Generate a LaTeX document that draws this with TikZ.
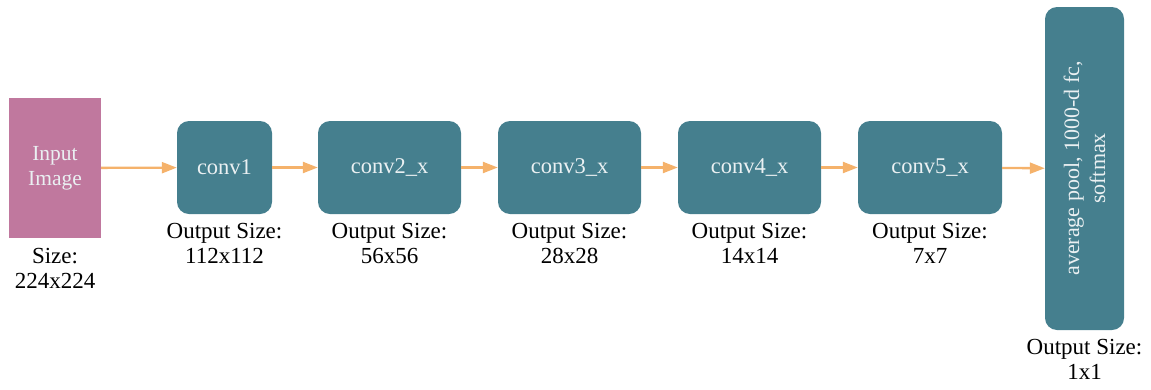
\documentclass[tikz,border=0pt]{standalone}
\usepackage{fontspec}
\setmainfont{Liberation Serif}
\usetikzlibrary{arrows.meta}
\definecolor{teal}{HTML}{457F8E}
\definecolor{mauve}{HTML}{C0789E}
\definecolor{arr}{HTML}{F5B26B}
\definecolor{boxtext}{HTML}{EAF0F2}
\tikzset{
  layer/.style={fill=teal, rounded corners=12pt, inner sep=0pt, text=boxtext, font=\fontsize{22.5}{25}\selectfont, align=center},
  inputbox/.style={fill=mauve, inner sep=0pt, text=boxtext, font=\fontsize{21.5}{25}\selectfont, align=center},
  lbl/.style={font=\fontsize{23}{25}\selectfont, align=center, text=black, anchor=north, inner sep=0pt},
  flow/.style={draw=arr, line width=2.3pt, -{Triangle[length=15pt,width=11pt]}}
}
\begin{document}
\begin{tikzpicture}[x=1pt,y=-1pt]
\useasboundingbox (0,0) rectangle (1151,389);
\node[inputbox, minimum width=92pt, minimum height=140pt] (in) at (55,168) {Input\\Image};
\node[layer, minimum width=95pt, minimum height=93pt] (c1) at (224.5,167.5) {conv1};
\node[layer, minimum width=143pt, minimum height=93pt] (c2) at (389.5,167.5) {conv2\_x};
\node[layer, minimum width=143pt, minimum height=93pt] (c3) at (569.5,167.5) {conv3\_x};
\node[layer, minimum width=143pt, minimum height=93pt] (c4) at (749.5,167.5) {conv4\_x};
\node[layer, minimum width=144pt, minimum height=93pt] (c5) at (930,167.5) {conv5\_x};
\node[layer, minimum width=79pt, minimum height=323pt] (fc) at (1084.5,168.5) {};
\node[text=boxtext, font=\fontsize{22}{26}\selectfont, align=center, rotate=90] (fct) at (fc.center) {average pool, 1000-d fc,\\softmax};
\draw[flow] (in) -- (c1);
\draw[flow] (c1) -- (c2);
\draw[flow] (c2) -- (c3);
\draw[flow] (c3) -- (c4);
\draw[flow] (c4) -- (c5);
\draw[flow] (c5) -- (fc);
\node[lbl] (lin) at (55,248) {Size:\\224x224};
\node[lbl] (l1) at (224.5,223) {Output Size:\\112x112};
\node[lbl] (l2) at (389.5,223) {Output Size:\\56x56};
\node[lbl] (l3) at (569.5,223) {Output Size:\\28x28};
\node[lbl] (l4) at (749.5,223) {Output Size:\\14x14};
\node[lbl] (l5) at (930,223) {Output Size:\\7x7};
\node[lbl] (lfc) at (1084.5,339) {Output Size:\\1x1};
\end{tikzpicture}
\end{document}
